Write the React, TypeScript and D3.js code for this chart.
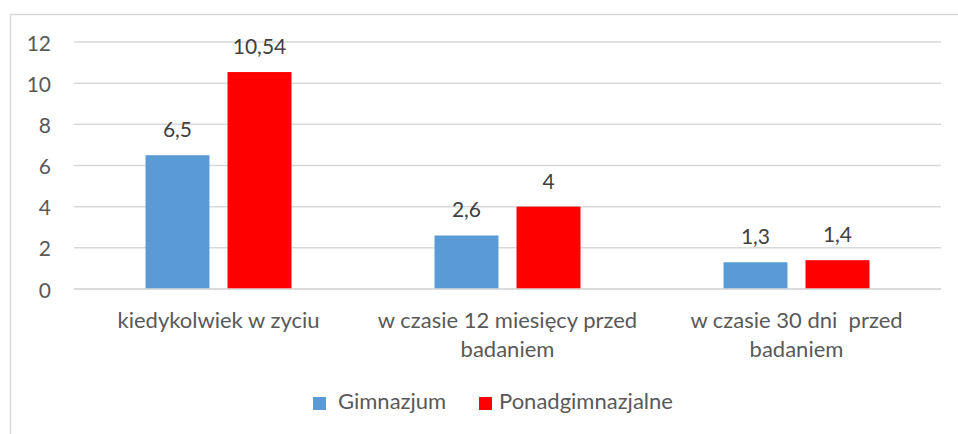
import * as d3 from "d3";

const WIDTH = 958;
const HEIGHT = 434;
const PLOT = { left: 74, right: 941, top: 42, bottom: 289 };

const CATEGORIES = [
  ["kiedykolwiek w zyciu"],
  ["w czasie 12 miesięcy przed", "badaniem"],
  ["w czasie 30 dni  przed", "badaniem"],
];
const SERIES = ["Gimnazjum", "Ponadgimnazjalne"];
const GIMNAZJUM = [6.5, 2.6, 1.3];
const PONADGIMNAZJALNE = [10.54, 4, 1.4];
const Y_TICKS = [0, 2, 4, 6, 8, 10, 12];

const COLORS = ["#5b9bd5", "#ff0000"];
const FONT = "Lato, 'Open Sans', sans-serif";
const FS = 21;
const FS_LABEL = 22;

const fmt = (v: number) => String(v).replace(".", ",");

export default function App() {
  const keys = CATEGORIES.map((c, i) => String(i));
  const values = [GIMNAZJUM, PONADGIMNAZJALNE];

  const xScale = d3.scaleBand().domain(keys).range([PLOT.left, PLOT.right]);
  const inner = d3
    .scaleBand()
    .domain(SERIES)
    .range([0, xScale.bandwidth()])
    .paddingInner(0.22)
    .paddingOuter(0.872);
  const yScale = d3.scaleLinear().domain([0, 12]).range([PLOT.bottom, PLOT.top]);

  return (
    <svg
      width={WIDTH}
      height={HEIGHT}
      style={{ position: "absolute", left: 0, top: 0, background: "#fff" }}
      fontFamily={FONT}
    >
      {/* chart frame (cropped: only top & left show) */}
      <path d={`M10.5,${HEIGHT} L10.5,14.5 L${WIDTH},14.5`} fill="none" stroke="#d9d9d9" strokeWidth={1.5} />

      {/* gridlines + y labels */}
      {Y_TICKS.map((t) => (
        <g key={t} transform={`translate(0, ${yScale(t)})`}>
          <line x1={PLOT.left} x2={PLOT.right} stroke="#d9d9d9" strokeWidth={1.5} />
          <text x={51} y={8.5} textAnchor="end" fontSize={FS} fill="#595959">
            {t}
          </text>
        </g>
      ))}

      {/* bars */}
      {keys.map((k, ci) => (
        <g key={k} transform={`translate(${xScale(k)}, 0)`}>
          {SERIES.map((s, si) => {
            const v = values[si][ci];
            const x = inner(s)!;
            const y = yScale(v);
            return (
              <g key={s}>
                <rect x={x} y={y} width={inner.bandwidth()} height={PLOT.bottom - y} fill={COLORS[si]} />
                <text
                  x={x + inner.bandwidth() / 2}
                  y={y - 18}
                  textAnchor="middle"
                  fontSize={FS}
                  fill="#404040"
                >
                  {fmt(v)}
                </text>
              </g>
            );
          })}
        </g>
      ))}

      {/* baseline */}
      <line x1={PLOT.left} x2={PLOT.right} y1={PLOT.bottom} y2={PLOT.bottom} stroke="#d9d9d9" strokeWidth={1.5} />

      {/* category labels */}
      {keys.map((k, ci) => (
        <text
          key={k}
          x={xScale(k)! + xScale.bandwidth() / 2}
          y={328}
          textAnchor="middle"
          fontSize={FS_LABEL}
          fill="#595959"
          style={{ whiteSpace: "pre" }}
        >
          {CATEGORIES[ci].map((line, li) => (
            <tspan key={li} x={xScale(k)! + xScale.bandwidth() / 2} dy={li === 0 ? 0 : 29}>
              {line}
            </tspan>
          ))}
        </text>
      ))}

      {/* legend */}
      <g>
        <rect x={313} y={397} width={13} height={13} fill={COLORS[0]} />
        <text x={338} y={409} fontSize={FS_LABEL} fill="#595959">
          {SERIES[0]}
        </text>
        <rect x={479} y={397} width={13} height={13} fill={COLORS[1]} />
        <text x={499} y={409} fontSize={FS_LABEL} fill="#595959">
          {SERIES[1]}
        </text>
      </g>
    </svg>
  );
}
